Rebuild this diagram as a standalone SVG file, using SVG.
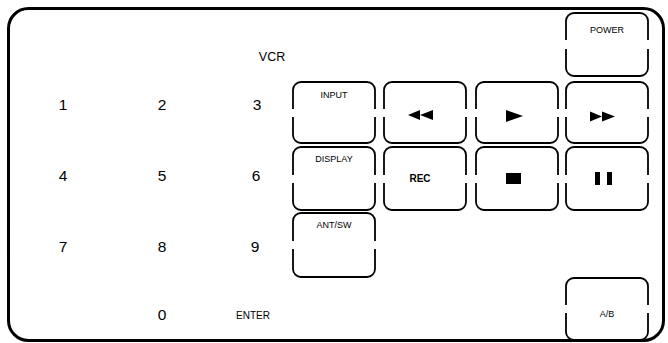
<svg xmlns="http://www.w3.org/2000/svg" width="668" height="343" viewBox="0 0 668 343">
<style>
.frame{fill:none;stroke:#000;stroke-width:3}
.btn{fill:none;stroke:#000;stroke-width:1.8;stroke-linecap:butt}
.num{font-family:"Liberation Sans",Arial,sans-serif;font-size:15.5px;fill:#000;text-anchor:middle}
.lbl{font-family:"Liberation Sans",Arial,sans-serif;font-size:9px;fill:#000;text-anchor:middle}
.bold{font-family:"Liberation Sans",Arial,sans-serif;font-size:10px;font-weight:bold;fill:#000;text-anchor:middle}
.sym{fill:#000}
</style>
<rect width="668" height="343" fill="#fff"/>
<rect class="frame" x="8.5" y="8.5" width="655" height="332" rx="20"/>
<g id="labels">
<text class="num" x="272" y="61" style="font-size:12.5px">VCR</text>
<text class="num" x="63" y="110">1</text>
<text class="num" x="162" y="110">2</text>
<text class="num" x="257" y="110">3</text>
<text class="num" x="63" y="181">4</text>
<text class="num" x="162" y="181">5</text>
<text class="num" x="256" y="181">6</text>
<text class="num" x="63" y="252">7</text>
<text class="num" x="162" y="252">8</text>
<text class="num" x="255" y="252">9</text>
<text class="num" x="162" y="320">0</text>
<text class="lbl" x="253" y="319" style="font-size:10px">ENTER</text>
</g>
<g id="power">
<path class="btn" d="M566,40 V21 A8,8 0 0 1 574,13 H640 A8,8 0 0 1 648,21 V40 M648,49 V68 A8,8 0 0 1 640,76 H574 A8,8 0 0 1 566,68 V49"/>
<text class="lbl" x="607" y="33">POWER</text>
</g>
<g id="input">
<path class="btn" d="M293,109 V90 A8,8 0 0 1 301,82 H367 A8,8 0 0 1 375,90 V109 M375,117 V135 A8,8 0 0 1 367,143 H301 A8,8 0 0 1 293,135 V117"/>
<text class="lbl" x="334" y="98">INPUT</text>
</g>
<g id="rewind">
<path class="btn" d="M384,109 V90 A8,8 0 0 1 392,82 H458 A8,8 0 0 1 466,90 V109 M466,117 V135 A8,8 0 0 1 458,143 H392 A8,8 0 0 1 384,135 V117"/>
<polygon class="sym" points="408,115 420,110 420,120"/>
<polygon class="sym" points="420,115 433,110 433,120"/>
</g>
<g id="play">
<path class="btn" d="M476,109 V90 A8,8 0 0 1 484,82 H550 A8,8 0 0 1 558,90 V109 M558,117 V135 A8,8 0 0 1 550,143 H484 A8,8 0 0 1 476,135 V117"/>
<polygon class="sym" points="506,110 523,116 506,122"/>
</g>
<g id="ff">
<path class="btn" d="M566,109 V90 A8,8 0 0 1 574,82 H640 A8,8 0 0 1 648,90 V109 M648,117 V135 A8,8 0 0 1 640,143 H574 A8,8 0 0 1 566,135 V117"/>
<polygon class="sym" points="590,111.5 602,116.5 590,121.5"/>
<polygon class="sym" points="602,111.5 615,116.5 602,121.5"/>
</g>
<g id="display">
<path class="btn" d="M293,175 V155 A8,8 0 0 1 301,147 H367 A8,8 0 0 1 375,155 V175 M375,183 V202 A8,8 0 0 1 367,210 H301 A8,8 0 0 1 293,202 V183"/>
<text class="lbl" x="334" y="162">DISPLAY</text>
</g>
<g id="rec">
<path class="btn" d="M384,175 V155 A8,8 0 0 1 392,147 H458 A8,8 0 0 1 466,155 V175 M466,183 V202 A8,8 0 0 1 458,210 H392 A8,8 0 0 1 384,202 V183"/>
<text class="bold" x="420" y="182">REC</text>
</g>
<g id="stop">
<path class="btn" d="M476,175 V155 A8,8 0 0 1 484,147 H550 A8,8 0 0 1 558,155 V175 M558,183 V202 A8,8 0 0 1 550,210 H484 A8,8 0 0 1 476,202 V183"/>
<rect class="sym" x="506" y="173" width="15" height="11"/>
</g>
<g id="pause">
<path class="btn" d="M566,175 V155 A8,8 0 0 1 574,147 H640 A8,8 0 0 1 648,155 V175 M648,183 V202 A8,8 0 0 1 640,210 H574 A8,8 0 0 1 566,202 V183"/>
<rect class="sym" x="595" y="172" width="5" height="13"/>
<rect class="sym" x="607" y="172" width="5" height="13"/>
</g>
<g id="antsw">
<path class="btn" d="M293,241 V221 A8,8 0 0 1 301,213 H367 A8,8 0 0 1 375,221 V241 M375,249 V269 A8,8 0 0 1 367,277 H301 A8,8 0 0 1 293,269 V249"/>
<text class="lbl" x="334" y="228">ANT/SW</text>
</g>
<g id="ab">
<path class="btn" d="M566,305 V286 A8,8 0 0 1 574,278 H640 A8,8 0 0 1 648,286 V305 M648,313 V332 A8,8 0 0 1 640,340 H574 A8,8 0 0 1 566,332 V313"/>
<text class="lbl" x="607" y="317">A/B</text>
</g>
<g id="connectors"></g>
</svg>
